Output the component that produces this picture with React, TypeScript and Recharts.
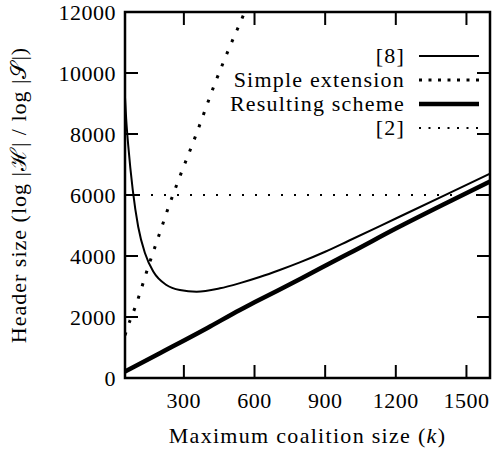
import {
  Legend,
  Line,
  LineChart,
  ReferenceArea,
  XAxis,
  YAxis,
} from "recharts";

const FONT = "Liberation Serif";
const FS = 22;

// chart geometry (page margin sidestepped by absolute positioning)
const W = 492;
const H = 451;
const PLOT_LEFT = 125;
const PLOT_TOP = 12;
const PLOT_W = 365;
const PLOT_H = 366;
const TICK = 13;

// x ticks / y ticks
const xTicks = [300, 600, 900, 1200, 1500];
const yTicks = [0, 2000, 4000, 6000, 8000, 10000, 12000];

// [8]
const ref8K = [50, 55, 64, 83, 106, 135, 170, 226, 283, 354, 453, 538, 622, 707, 792, 900, 1000, 1200, 1400, 1600];
const ref8H = [9200, 8500, 7600, 6160, 4960, 4090, 3490, 3050, 2885, 2830, 2940, 3110, 3310, 3540, 3790, 4140, 4500, 5230, 5960, 6700];

// Simple extension
const simpleK = [50, 71, 92, 150, 200, 234, 272, 354, 432, 495, 559, 600];
const simpleH = [1400, 1880, 2295, 3675, 4810, 5584, 6383, 8022, 9660, 10862, 12010, 12800];

// Resulting scheme
const resultK = [50, 200, 400, 538, 600, 800, 961, 1000, 1200, 1400, 1600];
const resultH = [210, 820, 1640, 2230, 2480, 3270, 3925, 4080, 4900, 5680, 6440];

// [2]
const ref2K = [50, 1600];
const ref2H = [6000, 6000];

const zip = (ks: number[], hs: number[]) => ks.map((k, i) => ({ k, h: hs[i] }));

const series = [
  { name: "[8]", data: zip(ref8K, ref8H), width: 2, dash: undefined, legendDash: undefined },
  { name: "Simple extension", data: zip(simpleK, simpleH), width: 3, dash: "3 10", legendDash: "3 6.5" },
  { name: "Resulting scheme", data: zip(resultK, resultH), width: 4.5, dash: undefined, legendDash: undefined },
  { name: "[2]", data: zip(ref2K, ref2H), width: 2, dash: "2 11", legendDash: "2 7.5" },
];

const legendRows = [56, 80, 104, 128];

function XTick(props: any) {
  const { x, y, payload } = props;
  return (
    <g>
      <line x1={x} y1={y} x2={x} y2={y - TICK} stroke="#000" strokeWidth={2} />
      <line x1={x} y1={y - PLOT_H} x2={x} y2={y - PLOT_H + TICK} stroke="#000" strokeWidth={2} />
      <text x={x} y={y + 30} textAnchor="middle" fontFamily={FONT} fontSize={FS} letterSpacing={0.5} fill="#000">
        {payload.value}
      </text>
    </g>
  );
}

function YTick(props: any) {
  const { x, y, payload } = props;
  return (
    <g>
      <line x1={x} y1={y} x2={x + TICK} y2={y} stroke="#000" strokeWidth={2} />
      <line x1={x + PLOT_W} y1={y} x2={x + PLOT_W - TICK} y2={y} stroke="#000" strokeWidth={2} />
      <text x={x - 9} y={y + 8} textAnchor="end" fontFamily={FONT} fontSize={FS} letterSpacing={0.5} fill="#000">
        {payload.value}
      </text>
    </g>
  );
}

function XTitle() {
  return (
    <text
      x={PLOT_LEFT + PLOT_W / 2}
      y={443}
      textAnchor="middle"
      fontFamily={FONT}
      fontSize={FS}
      letterSpacing={1.3}
      fill="#000"
    >
      Maximum coalition size (<tspan fontStyle="italic">k</tspan>)
    </text>
  );
}

function YTitle() {
  const cx = 26;
  const cy = PLOT_TOP + PLOT_H / 2;
  return (
    <text
      x={cx}
      y={cy}
      transform={`rotate(-90 ${cx} ${cy})`}
      textAnchor="middle"
      fontFamily={FONT}
      fontSize={FS}
      letterSpacing={1}
      fill="#000"
    >
      Header size (log |ℋ| / log |𝒮|)
    </text>
  );
}

function LegendBox() {
  return (
    <svg width={W} height={150} style={{ display: "block" }}>
      {series.map((s, i) => {
        const y = legendRows[i];
        return (
          <g key={s.name}>
            <text x={405} y={y + 7} textAnchor="end" fontFamily={FONT} fontSize={FS} letterSpacing={1.2} fill="#000">
              {s.name}
            </text>
            <line x1={419} y1={y} x2={479} y2={y} stroke="#000" strokeWidth={s.width} strokeDasharray={s.legendDash} />
          </g>
        );
      })}
    </svg>
  );
}

export default function App() {
  return (
    <div style={{ position: "absolute", left: 0, top: 0, width: W, height: H, background: "#fff" }}>
      <LineChart
        width={W}
        height={H}
        margin={{ top: PLOT_TOP, right: W - PLOT_LEFT - PLOT_W, bottom: 0, left: 0 }}
      >
        <XAxis
          dataKey="k"
          type="number"
          domain={[50, 1600]}
          ticks={xTicks}
          height={H - PLOT_TOP - PLOT_H}
          tickSize={0}
          tickMargin={0}
          axisLine={false}
          tick={<XTick />}
          label={<XTitle />}
          allowDataOverflow
        />
        <YAxis
          type="number"
          domain={[0, 12000]}
          ticks={yTicks}
          width={PLOT_LEFT}
          tickSize={0}
          tickMargin={0}
          axisLine={false}
          tick={<YTick />}
          label={<YTitle />}
          allowDataOverflow
          interval={0}
        />
        <ReferenceArea
          x1={50}
          x2={1600}
          y1={0}
          y2={12000}
          fill="none"
          stroke="#000"
          strokeWidth={2.5}
          ifOverflow="visible"
        />
        {series.map((s) => (
          <Line
            key={s.name}
            name={s.name}
            data={s.data}
            dataKey="h"
            type="monotone"
            stroke="#000"
            strokeWidth={s.width}
            strokeDasharray={s.dash}
            dot={false}
            activeDot={false}
            isAnimationActive={false}
          />
        ))}
        <Legend
          layout="vertical"
          align="center"
          verticalAlign="middle"
          wrapperStyle={{ left: 0, top: 0, width: W, height: 150 }}
          content={() => <LegendBox />}
        />
      </LineChart>
    </div>
  );
}
